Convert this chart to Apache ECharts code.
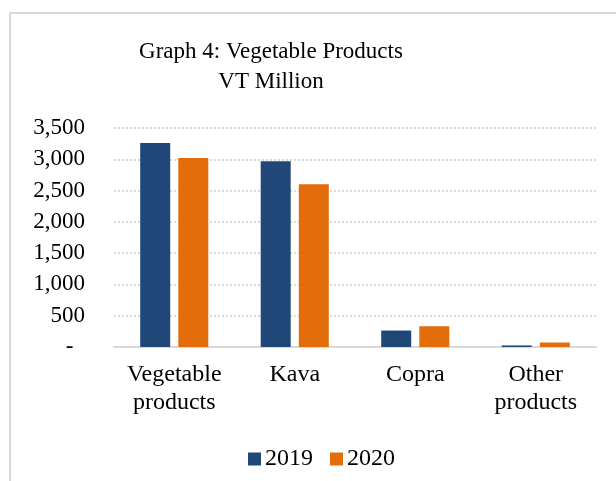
<!DOCTYPE html>
<html>
<head>
<meta charset="utf-8">
<script src="https://cdn.jsdelivr.net/npm/echarts@6/dist/echarts.min.js"></script>
<style>
  html, body { margin: 0; padding: 0; background: #fff; }
  #main { width: 616px; height: 481px; }
</style>
</head>
<body>
<div id="main"></div>
<script>
  // data (VT million)
  var categories = ['Vegetable\nproducts', 'Kava', 'Copra', 'Other\nproducts']
  var years = ['2019', '2020']
  var values2019 = [3260, 2970, 263, 25]
  var values2020 = [3020, 2603, 332, 72]
  var yTicks = { min: 0, max: 3500, interval: 500 }

  var font = '"Liberation Serif", "Times New Roman", serif'
  var myChart = echarts.init(document.getElementById('main'))

  var option = {
    animation: false,
    textStyle: { fontFamily: font },
    graphic: [{
      type: 'rect',
      shape: { x: 10, y: 13, width: 700, height: 600 },
      style: { fill: 'none', stroke: '#d9d9d9', lineWidth: 2 }
    }],
    title: {
      text: 'Graph 4: Vegetable Products\nVT Million',
      left: 266,
      top: 32,
      textAlign: 'center',
      textStyle: {
        fontFamily: font,
        fontSize: 23,
        fontWeight: 'normal',
        color: '#000',
        lineHeight: 30
      }
    },
    legend: {
      data: years,
      left: 243,
      top: 442,
      itemWidth: 13,
      itemHeight: 13,
      itemGap: 17,
      icon: 'rect',
      textStyle: { fontFamily: font, fontSize: 24, color: '#000', padding: [0, 0, 0, -1] }
    },
    grid: { left: 114, right: 20, top: 128, bottom: 134 },
    xAxis: {
      type: 'category',
      data: categories,
      axisTick: { show: false },
      axisLine: { lineStyle: { color: '#d9d9d9', width: 2 } },
      axisLabel: {
        fontFamily: font,
        fontSize: 24,
        color: '#000',
        lineHeight: 28,
        margin: 14,
        interval: 0
      }
    },
    yAxis: {
      type: 'value',
      min: yTicks.min,
      max: yTicks.max,
      interval: yTicks.interval,
      axisLine: { show: false },
      axisTick: { show: false },
      splitLine: {  // dotted gridlines like the original
        lineStyle: { color: '#cfcfcf', type: [2, 2], width: 1.5 }
      },
      axisLabel: {
        fontFamily: font,
        fontSize: 23,
        color: '#000',
        margin: 29,
        formatter: function (v) {
          return v === 0 ? '-  ' : v.toLocaleString('en-US')
        }
      }
    },
    series: [{
      name: years[0],
      type: 'bar',
      data: values2019,
      barWidth: 30,
      barGap: '27%',
      itemStyle: { color: '#1f4778' }
    }, {
      name: years[1],
      type: 'bar',
      data: values2020,
      barWidth: 30,
      itemStyle: { color: '#e36c0b' }
    }]
  }
  myChart.setOption(option)
</script>
</body>
</html>
